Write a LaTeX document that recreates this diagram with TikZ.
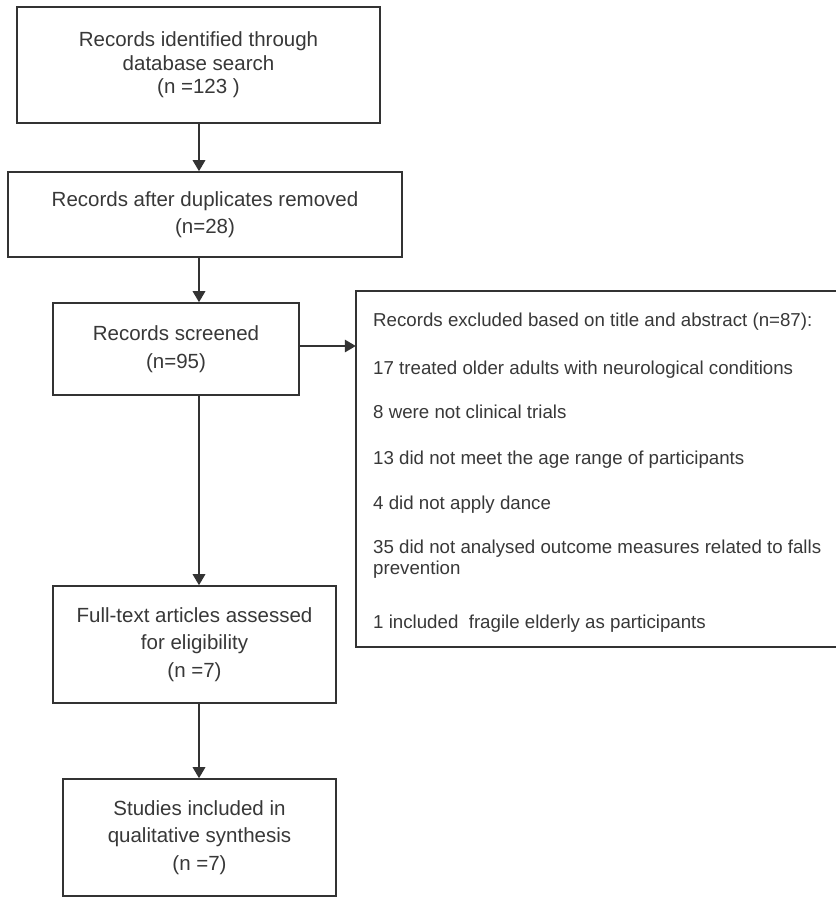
\documentclass[tikz,border=0pt]{standalone}
\usepackage{fontspec}
\setmainfont{Liberation Sans}
\usetikzlibrary{arrows.meta}
\definecolor{ink}{HTML}{333333}
\definecolor{txt}{HTML}{383838}
\tikzset{
  flowbox/.style={draw=ink, line width=1.6pt, fill=white, text=txt, align=center,
    inner sep=0pt, font=\fontsize{20.5}{27.5}\selectfont},
  notebox/.style={fill=white, inner sep=0pt},
  noteframe/.style={draw=ink, line width=1.6pt},
  noteline/.style={anchor=base west, inner sep=0pt, text=txt, font=\fontsize{18.7}{21}\selectfont},
  flowarrow/.style={draw=ink, line width=1.6pt, -{Triangle[length=11pt,width=12.5pt]}}
}
\begin{document}
\begin{tikzpicture}[x=1pt, y=-1pt]
\useasboundingbox[fill=white] (0,0) rectangle (836,898);
\clip (0,0) rectangle (836,898);

% main column of the flow
\node[flowbox, minimum width=363pt, minimum height=116pt, font=\fontsize{20.5}{23.5}\selectfont]
  (ident) at (198.5,65) {Records identified through\\database search\\(n =123 )};
\node[flowbox, minimum width=394pt, minimum height=85pt]
  (dedup) at (205,214.5) {Records after duplicates removed\\(n=28)};
\node[flowbox, minimum width=246pt, minimum height=92pt]
  (screen) at (176,349) {Records screened\\(n=95)};
\node[flowbox, minimum width=283pt, minimum height=117pt]
  (full) at (194.5,644.5) {Full-text articles assessed\\for eligibility\\(n =7)};
\node[flowbox, minimum width=273pt, minimum height=117pt]
  (incl) at (199.5,837.5) {Studies included in\\qualitative synthesis\\(n =7)};

% exclusion box on the right; it runs off the right margin, so its right side is not drawn
\node[notebox, minimum width=500pt, minimum height=356pt] (excl) at (606,469) {};
\draw[noteframe] (excl.north east) -- (excl.north west) -- (excl.south west) -- (excl.south east);
\node[noteline] (e0) at (373,326) {Records excluded based on title and abstract (n=87):};
\node[noteline] (e1) at (373,374) {17 treated older adults with neurological conditions};
\node[noteline] (e2) at (373,418) {8 were not clinical trials};
\node[noteline] (e3) at (373,464) {13 did not meet the age range of participants};
\node[noteline] (e4) at (373,509) {4 did not apply dance};
\node[noteline] (e5) at (373,553) {35 did not analysed outcome measures related to falls};
\node[noteline] (e5b) at (373,574) {prevention};
\node[noteline] (e6) at (373,628) {1 included \ fragile elderly as participants};

% vertical line shared by the downward arrows
\coordinate (spine) at (199,0);

\draw[flowarrow] (ident.south -| spine) -- (dedup.north -| spine);
\draw[flowarrow] (dedup.south -| spine) -- (screen.north -| spine);
\draw[flowarrow] (screen.south -| spine) -- (full.north -| spine);
\draw[flowarrow] (full.south -| spine) -- (incl.north -| spine);
\draw[flowarrow] (screen.east |- 0,346) -- (excl.west |- 0,346);
\end{tikzpicture}
\end{document}
